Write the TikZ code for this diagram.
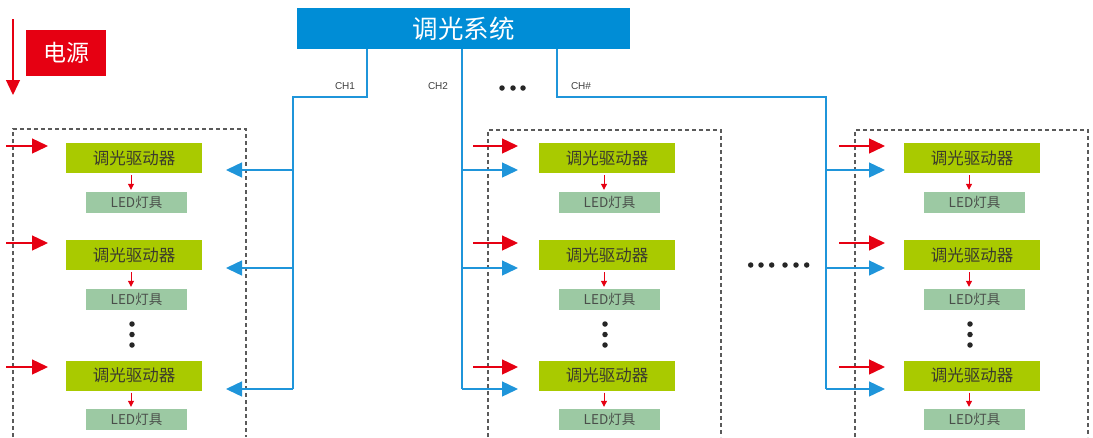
\documentclass[tikz,border=0pt]{standalone}
\usepackage{fontspec}
\setmainfont{Noto Sans CJK SC}
\newfontfamily\latinsf{Liberation Sans}
\usetikzlibrary{arrows.meta}
\definecolor{sysblue}{HTML}{008DD6}
\definecolor{lineblue}{HTML}{1F95DA}
\definecolor{pwred}{HTML}{E60012}
\definecolor{drvgreen}{HTML}{A9CA00}
\definecolor{ledgreen}{HTML}{9CC9A3}
\definecolor{drvtext}{HTML}{3C3C2C}
\definecolor{ledtext}{HTML}{4A4F4A}
\definecolor{dashgray}{HTML}{5A5A5A}
\begin{document}
\begin{tikzpicture}[x=1pt,y=-1pt,
  drvbox/.style={fill=drvgreen,minimum width=136pt,minimum height=30pt,inner sep=0pt,text=drvtext,font=\fontsize{16.5}{16.5}\selectfont},
  ledbox/.style={fill=ledgreen,minimum width=101pt,minimum height=21pt,inner sep=0pt,text=ledtext,font=\fontsize{13.5}{13.5}\selectfont},
  grp/.style={draw=dashgray,line width=1.1pt,dash pattern=on 4pt off 3pt},
  redin/.style={draw=pwred,line width=1.4pt,-{Triangle[length=16pt,width=15pt]}},
  bluein/.style={draw=lineblue,line width=1.4pt,-{Triangle[length=16pt,width=15pt]}},
  bus/.style={draw=lineblue,line width=1.4pt},
  small/.style={draw=pwred,line width=1pt,-{Triangle[length=6pt,width=6pt]}},
  dot/.style={circle,fill=black!85,inner sep=0pt,minimum size=5.5pt},
  chlab/.style={font=\latinsf\fontsize{10}{10}\selectfont,text=black!75,inner sep=0pt}
]
\useasboundingbox (0,0) rectangle (1093,437);

% title and power
\node[fill=sysblue,minimum width=333pt,minimum height=41pt,inner sep=0pt,text=white,font=\fontsize{25.5}{25.5}\selectfont] (sys) at (463.5,28.5) {调光系统};
\node[fill=pwred,minimum width=80pt,minimum height=46pt,inner sep=0pt,text=white,font=\fontsize{23}{23}\selectfont] (pw) at (66,53) {电源};
\coordinate (pwa) at (13,19);
\coordinate (pwb) at (13,95);
\draw[draw=pwred,line width=1.3pt,-{Triangle[length=15pt,width=14pt]}] (pwa) -- (pwb);

% dashed groups
\draw[grp] (13,437) -- (13,129) -- (246,129) -- (246,437);
\draw[grp] (488,437) -- (488,130) -- (721,130) -- (721,437);
\draw[grp] (855,437) -- (855,130) -- (1088,130) -- (1088,437);

% drivers and leds
\foreach \g/\cx/\lx in {1/134/136.5, 2/607/609.5, 3/972/974.5}{
  \node[drvbox] (d\g1) at (\cx,158) {调光驱动器};
  \node[drvbox] (d\g2) at (\cx,255) {调光驱动器};
  \node[drvbox] (d\g3) at (\cx,375.5) {调光驱动器};
  \node[ledbox] (l\g1) at (\lx,202.5) {LED灯具};
  \node[ledbox] (l\g2) at (\lx,299.5) {LED灯具};
  \node[ledbox] (l\g3) at (\lx,419.5) {LED灯具};
  \foreach \k in {1,2,3}{
    \draw[small] ([xshift=-3pt,yshift=-2pt]d\g\k.south) -- ([xshift=-3pt,yshift=2pt]d\g\k.south |- l\g\k.north);
  }
  \node[dot] (v\g a) at (\cx-2,324) {};
  \node[dot] (v\g b) at (\cx-2,334.5) {};
  \node[dot] (v\g c) at (\cx-2,345) {};
}

% red power inputs
\foreach \y in {146,243,367}{
  \draw[redin] (6,\y) -- (48,\y);
  \draw[redin] (473,\y) -- (518,\y);
  \draw[redin] (839,\y) -- (885,\y);
}

% channel buses
\coordinate (c1a) at (367,49);
\coordinate (c1b) at (367,97);
\coordinate (c1c) at (293,97);
\coordinate (c1d) at (293,389);
\draw[bus] (c1a) -- (c1b) -- (c1c) -- (c1d);
\coordinate (c2a) at (462,49);
\coordinate (c2d) at (462,389);
\draw[bus] (c2a) -- (c2d);
\coordinate (c3a) at (557,49);
\coordinate (c3b) at (557,97);
\coordinate (c3c) at (826,97);
\coordinate (c3d) at (826,389);
\draw[bus] (c3a) -- (c3b) -- (c3c) -- (c3d);

\foreach \y in {170,268,389}{
  \draw[bluein] (293,\y) -- (226,\y);
  \draw[bluein] (462,\y) -- (518,\y);
  \draw[bluein] (826,\y) -- (885,\y);
}

% labels
\node[chlab] (ch1) at (345,86) {CH1};
\node[chlab] (ch2) at (438,86) {CH2};
\node[chlab] (ch3) at (581,86) {CH\#};
\foreach \x/\n in {502/a,513/b,523/c}{ \node[dot] (t\n) at (\x,88) {}; }
\foreach \x/\n in {750.7/a,761/b,771.7/c,785/d,796/e,806.7/f}{ \node[dot] (m\n) at (\x,265) {}; }
\end{tikzpicture}
\end{document}
